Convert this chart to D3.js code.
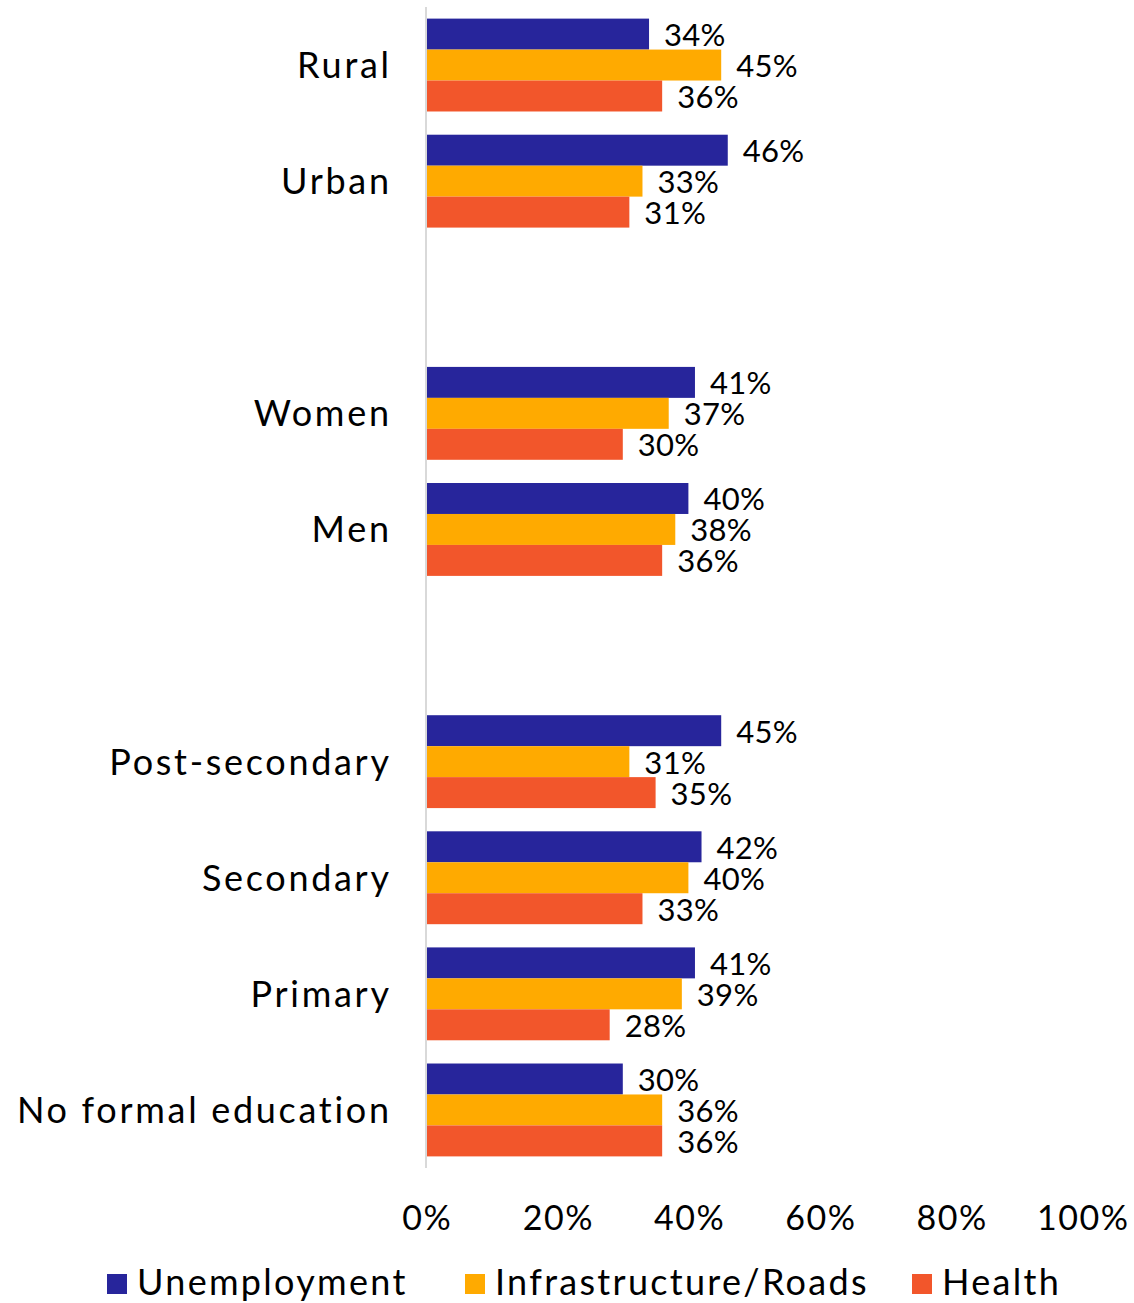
<!DOCTYPE html>
<html>
<head>
<meta charset="utf-8">
<script src="https://cdn.jsdelivr.net/npm/d3@7"></script>
<style>
  html, body { margin: 0; padding: 0; background: #fff; }
  svg text { font-family: "Lato", "DejaVu Sans", sans-serif; fill: #000; }
</style>
</head>
<body>
<div id="chart"></div>
<script>
// Categories top to bottom; empty strings are spacer rows between groups
const categories = ["Rural", "Urban", "", "Women", "Men", "", "Post-secondary", "Secondary", "Primary", "No formal education"];
const seriesNames = ["Unemployment", "Infrastructure/Roads", "Health"];
const unemployment = [34, 46, null, 41, 40, null, 45, 42, 41, 30];
const infrastructure = [45, 33, null, 37, 38, null, 31, 40, 39, 36];
const health = [36, 31, null, 30, 36, null, 35, 33, 28, 36];
const tickValues = [0, 20, 40, 60, 80, 100];
const colors = ["#27259b", "#ffaa00", "#f2562b"];

const width = 1134, height = 1303;
const margin = { top: 7, right: 52, bottom: 135, left: 426 };

const svg = d3.select("#chart").append("svg")
  .attr("width", width).attr("height", height);

const rowKeys = categories.map((c, i) => c === "" ? "__gap" + i : c);

const x = d3.scaleLinear().domain([0, 100]).range([margin.left, width - margin.right]);
const y = d3.scaleBand().domain(rowKeys).range([margin.top, height - margin.bottom]).paddingInner(0.2).paddingOuter(0.1);
const ySub = d3.scaleBand().domain(seriesNames).range([0, y.bandwidth()]);

const seriesValues = [unemployment, infrastructure, health];

// Bars with value labels
seriesNames.forEach((name, si) => {
  const rows = rowKeys.map((k, i) => ({ key: k, v: seriesValues[si][i] })).filter(d => d.v != null);
  const g = svg.append("g");
  g.selectAll("rect").data(rows).join("rect")
    .attr("x", x(0))
    .attr("y", d => y(d.key) + ySub(name))
    .attr("width", d => x(d.v) - x(0))
    .attr("height", ySub.bandwidth())
    .attr("fill", colors[si]);
  g.selectAll("text").data(rows).join("text")
    .attr("x", d => x(d.v) + 15)
    .attr("y", d => y(d.key) + ySub(name) + ySub.bandwidth() / 2 + 12)
    .attr("font-size", 31)
    .attr("letter-spacing", 0.3)
    .text(d => d.v + "%");
});

// Vertical axis line and category labels
svg.append("line")
  .attr("x1", x(0)).attr("x2", x(0))
  .attr("y1", margin.top).attr("y2", height - margin.bottom)
  .attr("stroke", "#d9d9d9").attr("stroke-width", 2);

const catSpacing = 2.7;
svg.append("g").selectAll("text").data(rowKeys.filter(k => !k.startsWith("__gap"))).join("text")
  .attr("x", x(0) - 37 + catSpacing)
  .attr("y", d => y(d) + y.bandwidth() / 2 + 13)
  .attr("text-anchor", "end")
  .attr("font-size", 36)
  .attr("letter-spacing", catSpacing)
  .text(d => d);

// Horizontal value axis (labels only)
const xAxis = svg.append("g")
  .attr("transform", `translate(0, ${height - margin.bottom + 38})`)
  .call(d3.axisBottom(x).tickValues(tickValues).tickFormat(d => d + "%").tickSize(0).tickPadding(0));
xAxis.select(".domain").remove();
xAxis.selectAll("text")
  .attr("font-size", 34)
  .attr("letter-spacing", 1.5)
  .attr("dx", 0.75)
  .attr("font-family", "Lato, DejaVu Sans, sans-serif")
  .attr("fill", "#000");

// Legend
const legendItems = [
  { name: seriesNames[0], x: 107 },
  { name: seriesNames[1], x: 465 },
  { name: seriesNames[2], x: 912 }
];
const legend = svg.append("g").attr("transform", "translate(0, 1274)");
legendItems.forEach((d, i) => {
  legend.append("rect").attr("x", d.x).attr("y", 0).attr("width", 20).attr("height", 20).attr("fill", colors[i]);
  legend.append("text").attr("x", d.x + 30).attr("y", 21).attr("font-size", 36)
    .attr("letter-spacing", 2.3).text(d.name);
});
</script>
</body>
</html>
